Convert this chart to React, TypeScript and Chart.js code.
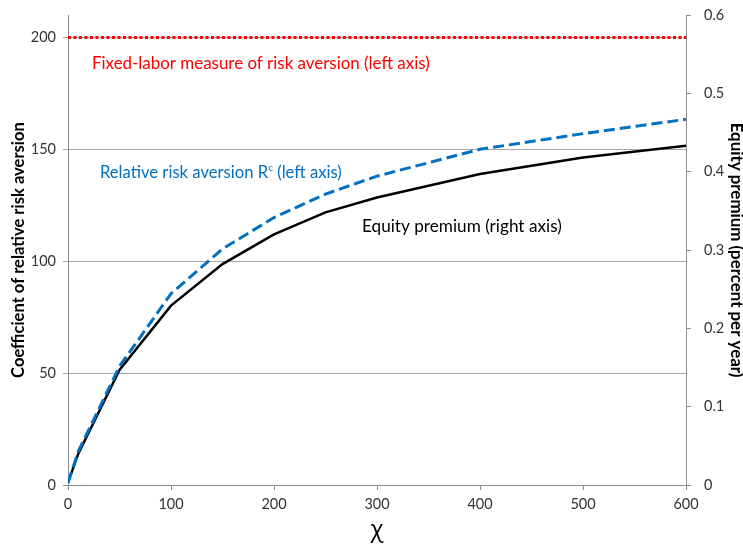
import React, { useEffect, useRef } from "react";
import { Chart, registerables } from "chart.js";

Chart.register(...registerables);

// ---- data ----
const chiValues = [0, 10, 50, 100, 150, 200, 250, 300, 400, 500, 600];
const relativeRiskAversion = [1, 15, 53, 85.5, 105.5, 119.5, 130, 138, 150, 157, 163.4];
const equityPremium = [0.003, 0.04, 0.147, 0.229, 0.282, 0.32, 0.348, 0.367, 0.397, 0.418, 0.433];
const fixedLaborRiskAversion = [200, 200, 200, 200, 200, 200, 200, 200, 200, 200, 200];

const xTickValues = [0, 100, 200, 300, 400, 500, 600];
const leftTickValues = [0, 50, 100, 150, 200];
const rightTickValues = [0, 0.1, 0.2, 0.3, 0.4, 0.5, 0.6];

const xTitle = "χ";
const leftTitle = "Coefficient of relative risk aversion";
const rightTitle = "Equity premium (percent per year)";

// annotation labels (text parts, superscript flags), anchored in data coords
const noteParts = [
  [{ t: "Fixed-labor measure of risk aversion (left axis)", sup: false }],
  [
    { t: "Relative risk aversion R", sup: false },
    { t: "c", sup: true },
    { t: " (left axis)", sup: false },
  ],
  [{ t: "Equity premium (right axis)", sup: false }],
];
const noteX = [23.3, 31, 285.4];
const noteY = [188.4, 139.7, 115.6];
const noteColors = ["#FF0000", "#0070C0", "#000000"];
const noteWidths = [338, 242, 200];

const FONT = "Lato, 'Open Sans', sans-serif";

function measure(text: string, weight: string, family: string, size: number) {
  const c = document.createElement("canvas").getContext("2d")!;
  c.font = `${weight} ${size}px ${family}`;
  return c.measureText(text).width;
}
function fitSize(text: string, weight: string, family: string, target: number) {
  return (100 * target) / measure(text, weight, family, 100);
}

const notesPlugin = {
  id: "notes",
  afterDatasetsDraw(chart: any) {
    const ctx = chart.ctx;
    const xs = chart.scales.x;
    const ys = chart.scales.y;
    ctx.save();
    ctx.textBaseline = "middle";
    ctx.textAlign = "left";
    noteParts.forEach((parts, i) => {
      let w100 = 0;
      parts.forEach((p) => {
        w100 += measure(p.t, "normal", FONT, p.sup ? 60 : 100);
      });
      const size = (100 * noteWidths[i]) / w100;
      let x = xs.getPixelForValue(noteX[i]);
      const y = ys.getPixelForValue(noteY[i]);
      ctx.fillStyle = noteColors[i];
      parts.forEach((p) => {
        const s = p.sup ? size * 0.6 : size;
        ctx.font = `normal ${s}px ${FONT}`;
        ctx.fillText(p.t, x, p.sup ? y - size * 0.3 : y);
        x += ctx.measureText(p.t).width;
      });
    });
    ctx.restore();
  },
};

export default function App() {
  const ref = useRef<HTMLCanvasElement | null>(null);

  useEffect(() => {
    if (!ref.current) return;
    const leftSize = fitSize(leftTitle, "bold", FONT, 256);
    const rightSize = fitSize(rightTitle, "bold", FONT, 255);
    const tickFont = { family: FONT, size: 14.5 };
    const gridColor = "#a6a6a6";
    const axisColor = "#8c8c8c";

    const chart = new Chart(ref.current, {
      type: "line",
      data: {
        datasets: [
          {
            label: "Fixed-labor",
            data: chiValues.map((x, i) => ({ x, y: fixedLaborRiskAversion[i] })),
            yAxisID: "y",
            borderColor: "#FF0000",
            borderWidth: 3,
            borderDash: [3, 2.5],
            pointRadius: 0,
            fill: false,
          },
          {
            label: "Relative risk aversion",
            data: chiValues.map((x, i) => ({ x, y: relativeRiskAversion[i] })),
            yAxisID: "y",
            borderColor: "#0070C0",
            borderWidth: 3,
            borderDash: [11, 5],
            pointRadius: 0,
            fill: false,
          },
          {
            label: "Equity premium",
            data: chiValues.map((x, i) => ({ x, y: equityPremium[i] })),
            yAxisID: "y1",
            borderColor: "#000000",
            borderWidth: 2.5,
            pointRadius: 0,
            fill: false,
          },
        ],
      },
      options: {
        animation: false,
        responsive: false,
        maintainAspectRatio: false,
        layout: { padding: { top: 15, left: 0, right: 0, bottom: 0 } },
        plugins: {
          legend: { display: false },
          tooltip: { enabled: false },
        },
        scales: {
          x: {
            type: "linear",
            min: 0,
            max: 600,
            afterBuildTicks: (axis: any) => {
              axis.ticks = xTickValues.map((v) => ({ value: v }));
            },
            afterFit: (s: any) => {
              s.height = 60;
              s.paddingLeft = 0;
              s.paddingRight = 0;
            },
            grid: {
              drawOnChartArea: false,
              drawTicks: true,
              tickLength: 5,
              color: axisColor,
            },
            border: { display: true, color: axisColor, width: 1 },
            ticks: { font: tickFont, color: "#333333", padding: 6, maxRotation: 0 },
            title: {
              display: true,
              text: xTitle,
              font: { family: "'Open Sans', sans-serif", size: 24 },
              color: "#000000",
              padding: { top: 0, bottom: 0 },
            },
          },
          y: {
            type: "linear",
            position: "left",
            min: 0,
            max: 210,
            afterBuildTicks: (axis: any) => {
              axis.ticks = leftTickValues.map((v) => ({ value: v }));
            },
            afterFit: (s: any) => {
              s.width = 68;
              s.paddingTop = 0;
              s.paddingBottom = 0;
            },
            grid: {
              drawOnChartArea: true,
              drawTicks: true,
              tickLength: 5,
              color: (c: any) => (c.tick && c.tick.value === 0 ? axisColor : gridColor),
            },
            border: { display: true, color: axisColor, width: 1 },
            ticks: { font: tickFont, color: "#333333", padding: 7 },
            title: {
              display: true,
              text: leftTitle,
              font: { family: FONT, size: leftSize, weight: "bold", lineHeight: 1 },
              color: "#000000",
              padding: { top: 19 - leftSize / 2, bottom: 0 },
            },
          },
          y1: {
            type: "linear",
            position: "right",
            min: 0,
            max: 0.6,
            afterBuildTicks: (axis: any) => {
              axis.ticks = rightTickValues.map((v) => ({ value: v }));
            },
            afterFit: (s: any) => {
              s.width = 57;
              s.paddingTop = 0;
              s.paddingBottom = 0;
            },
            grid: {
              drawOnChartArea: false,
              drawTicks: true,
              tickLength: 5,
              color: axisColor,
            },
            border: { display: true, color: axisColor, width: 1 },
            ticks: {
              font: tickFont,
              color: "#333333",
              padding: 13,
              callback: (v: any) => String(Math.round(Number(v) * 10) / 10),
            },
            title: {
              display: true,
              text: rightTitle,
              font: { family: FONT, size: rightSize, weight: "bold", lineHeight: 1 },
              color: "#000000",
              padding: { top: 7 - rightSize / 2, bottom: 0 },
            },
          },
        },
      } as any,
      plugins: [notesPlugin],
    });
    return () => chart.destroy();
  }, []);

  return (
    <div style={{ position: "fixed", left: 0, top: 0, width: 743, height: 545, background: "#fff" }}>
      <canvas ref={ref} width={743} height={545} style={{ display: "block" }} />
    </div>
  );
}
